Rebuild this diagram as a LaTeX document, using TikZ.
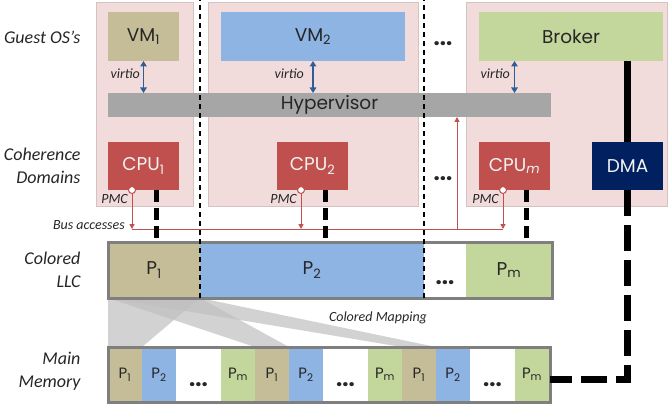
\documentclass[tikz,border=0pt]{standalone}
\usepackage{fontspec}
\setmainfont{Poppins}
\newfontfamily\labfont{Carlito}
\usepackage{tikz}
\usetikzlibrary{arrows.meta}
\definecolor{domfill}{HTML}{F2DCDB}
\definecolor{domline}{HTML}{D3C3C3}
\definecolor{vmtan}{HTML}{C4BD97}
\definecolor{vmblue}{HTML}{8DB4E2}
\definecolor{vmgreen}{HTML}{C3D69B}
\definecolor{hypgray}{HTML}{A6A6A6}
\definecolor{cpured}{HTML}{C0504D}
\definecolor{dmanavy}{HTML}{002060}
\definecolor{virtioblue}{HTML}{2F5D96}
\definecolor{framegray}{HTML}{7F7F7F}
\definecolor{mapgray}{HTML}{BFBFBF}
\pgfdeclarelayer{background}
\pgfsetlayers{background,main}

\begin{document}
\begin{tikzpicture}[x=1pt,y=-1pt,>={Triangle[width=5pt,length=5pt]},
  box/.style={inner sep=0pt,outer sep=0pt,text=black!85,font=\fontsize{18.5}{22}\selectfont},
  domainbox/.style={fill=domfill,draw=domline,line width=0.6pt,inner sep=0pt,minimum height=204pt},
  cpubox/.style={box,fill=cpured,text=white!95!black,minimum width=71pt,minimum height=48pt},
  cell/.style={box,minimum height=56pt},
  memcell/.style={box,minimum width=34pt,minimum height=55pt,font=\fontsize{15}{18}\selectfont},
  rowlab/.style={font=\labfont\itshape\fontsize{18}{23}\selectfont,align=right,anchor=east,text=black!85},
  smalllab/.style={font=\labfont\itshape\fontsize{14}{16}\selectfont,text=black!85,inner sep=1pt},
  virtio/.style={{Triangle[width=6.5pt,length=5.5pt]}-{Triangle[width=6.5pt,length=5.5pt]},virtioblue,line width=1.4pt},
  busline/.style={cpured,line width=1pt},
  pmcdot/.style={circle,draw=cpured,fill=white,line width=1pt,inner sep=0pt,minimum size=7pt},
  cpulink/.style={line width=5pt,dash pattern=on 12pt off 6pt},
  dmalink/.style={line width=7pt,dash pattern=on 26pt off 9pt},
  sepline/.style={line width=1.5pt,dash pattern=on 5pt off 4pt},
  dotsnode/.style={font=\bfseries\fontsize{22}{24}\selectfont,text=black!85,inner sep=0pt,anchor=base}]
  \useasboundingbox (0,0) rectangle (669,409);

  \node[domainbox,minimum width=97pt] (domone) at (144.5,104) {};
  \node[domainbox,minimum width=210pt] (domtwo) at (313,104) {};
  \node[domainbox,minimum width=201pt] (domm) at (566.5,104) {};

  \node[box,fill=vmtan,minimum width=71pt,minimum height=49pt] (vmone) at (143.5,36.5) {VM\textsubscript{1}};
  \node[box,fill=vmblue,minimum width=184pt,minimum height=49pt] (vmtwo) at (313,36.5) {VM\textsubscript{2}};
  \node[box,fill=vmgreen,minimum width=184pt,minimum height=49pt] (broker) at (571,36.5) {Broker};
  \node[box,fill=hypgray,minimum width=443pt,minimum height=24pt] (hyp) at (329.5,105) {Hypervisor};

  \node[cpubox] (cpuone) at (143.5,166) {CPU\textsubscript{1}};
  \node[cpubox] (cputwo) at (312.5,166) {CPU\textsubscript{2}};
  \node[cpubox] (cpum) at (514.5,166) {CPU\textsubscript{\itshape m}};
  \node[cpubox,fill=dmanavy] (dma) at (627.5,166) {DMA};

  \node[cell,fill=vmtan,minimum width=92pt] (llcone) at (154,270) {P\textsubscript{1}};
  \node[cell,fill=vmblue,minimum width=224pt] (llctwo) at (312,270) {P\textsubscript{2}};
  \node[cell,fill=vmgreen,minimum width=86pt] (llcm) at (509,270) {P\textsubscript{m}};
  \node[cell,draw=framegray,line width=3pt,minimum width=444pt] (llc) at (330,270) {};

  \foreach \k in {1,2,3}{
    \pgfmathsetmacro{\bx}{108+147*(\k-1)}
    \node[memcell,fill=vmtan] (memone\k) at (\bx+17,374.5) {P\textsubscript{1}};
    \node[memcell,fill=vmblue] (memtwo\k) at (\bx+51,374.5) {P\textsubscript{2}};
    \node[dotsnode] (memdots\k) at (\bx+90.5,386) {...};
    \node[memcell,fill=vmgreen] (memm\k) at (\bx+130,374.5) {P\textsubscript{m}};
  }
  \node[box,draw=framegray,line width=3pt,minimum width=442pt,minimum height=55pt] (mem) at (329,374.5) {};

  \begin{pgfonlayer}{background}
    \foreach \k in {1,2,3}
      \fill[mapgray,opacity=0.7] (llcone.south west) -- (llcone.south east)
        -- (memone\k.north east) -- (memone\k.north west) -- cycle;
  \end{pgfonlayer}
  \node[smalllab] (maplab) at (378,318) {Colored Mapping};

  \node[rowlab] (guestlab) at (84,37) {Guest OS’s};
  \node[rowlab] (cohlab) at (84,166) {Coherence\\Domains};
  \node[rowlab] (llclab) at (84,270) {Colored\\LLC};
  \node[rowlab] (memlab) at (84,371.5) {Main\\Memory};

  \draw[virtio] (vmone.south) -- (vmone.south |- hyp.north);
  \draw[virtio] (vmtwo.south) -- (vmtwo.south |- hyp.north);
  \draw[virtio] (broker.south -| cpum) -- (hyp.north -| cpum);
  \node[smalllab,anchor=east] (virtioone) at (141,74) {virtio};
  \node[smalllab,anchor=east] (virtiotwo) at (305,74) {virtio};
  \node[smalllab,anchor=east] (virtiom) at (511,74) {virtio};

  \coordinate (bus) at (0,229);
  \coordinate (pmcone) at ([xshift=-11.5pt]cpuone.south);
  \coordinate (pmctwo) at ([xshift=-11.5pt]cputwo.south);
  \coordinate (pmcm) at ([xshift=-11.5pt]cpum.south);
  \coordinate (busstart) at (pmcone |- bus);
  \coordinate (busup) at (457,229);
  \draw[busline] (busstart) -- (pmcm |- bus);
  \draw[busline,->] (pmcone) -- (busstart);
  \draw[busline,->] (pmctwo) -- (pmctwo |- bus);
  \draw[busline,->] (pmcm) -- (pmcm |- bus);
  \draw[busline,->] (busup) -- (busup |- hyp.south);
  \node[pmcdot] (pmcdotone) at (pmcone) {};
  \node[pmcdot] (pmcdottwo) at (pmctwo) {};
  \node[pmcdot] (pmcdotm) at (pmcm) {};
  \node[smalllab,anchor=east] (pmclabone) at ([xshift=-3pt,yshift=-9pt]pmcone) {PMC};
  \node[smalllab,anchor=east] (pmclabtwo) at ([xshift=-3pt,yshift=-9pt]pmctwo) {PMC};
  \node[smalllab,anchor=east] (pmclabm) at ([xshift=-3pt,yshift=-9pt]pmcm) {PMC};
  \node[smalllab,anchor=base east] (buslab) at ([xshift=-6pt]busstart) {Bus accesses};

  \draw[cpulink] ([xshift=13pt]cpuone.south) -- ([xshift=13pt]cpuone.south |- llc.north);
  \draw[cpulink] ([xshift=13pt]cputwo.south) -- ([xshift=13pt]cputwo.south |- llc.north);
  \draw[cpulink] ([xshift=12pt]cpum.south) -- ([xshift=12pt]cpum.south |- llc.north);

  \coordinate (memlink) at ([yshift=-4.5pt]mem.east);
  \draw[line width=7pt] (broker.south -| dma.north) -- (dma.north);
  \draw[dmalink] (dma.south) -- (dma.south |- memlink) -- (memlink);

  \draw[sepline] (llcone.south east) -- (llcone.south east |- 0,0);
  \draw[sepline] (llctwo.south east) -- (llctwo.south east |- 0,0);

  \node[dotsnode] (dotstop) at (443,46) {...};
  \node[dotsnode] (dotsmid) at (443,180) {...};
  \node[dotsnode] (dotsllc) at (445,284) {...};
\end{tikzpicture}
\end{document}
